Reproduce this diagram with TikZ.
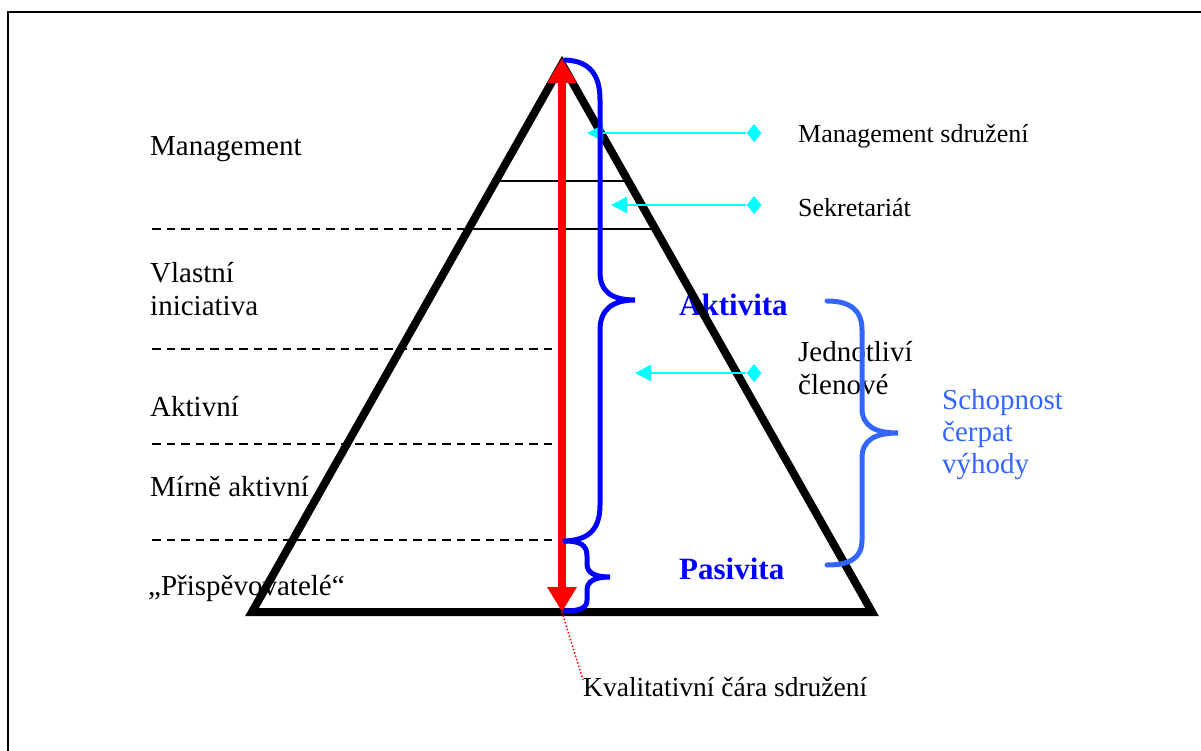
\documentclass[tikz,border=0pt]{standalone}
\usepackage{fontspec}
\setmainfont{Liberation Serif}
\usetikzlibrary{arrows.meta,shapes.geometric}
\definecolor{benefitblue}{HTML}{3366FF}
\definecolor{pointercyan}{HTML}{00FFFF}
\definecolor{qualityred}{HTML}{FF0000}
\definecolor{braceblue}{HTML}{0000FF}

\begin{document}
\begin{tikzpicture}[x=1pt,y=-1pt,
  lbl/.style={anchor=base west, inner sep=0pt, align=left,
              font=\fontsize{29}{33}\selectfont},
  sidelbl/.style={anchor=base west, inner sep=0pt, align=left,
              font=\fontsize{26}{30}\selectfont},
  poleLbl/.style={anchor=base west, inner sep=0pt, text=braceblue,
              font=\fontsize{31}{36}\selectfont\bfseries},
  benefitLbl/.style={anchor=base west, inner sep=0pt, align=left, text=benefitblue,
              font=\fontsize{29}{32}\selectfont},
  rim/.style={line width=8pt, line join=miter},
  band/.style={line width=1.4pt},
  guide/.style={line width=1.4pt, dash pattern=on 8.5pt off 6pt},
  brace/.style={line width=5pt, line cap=round, braceblue},
  widebrace/.style={line width=5pt, line cap=round, benefitblue},
  pointer/.style={pointercyan, line width=2.5pt, -{Triangle[width=16pt,length=16pt]}},
  pin/.style={diamond, fill=pointercyan, minimum width=15pt, minimum height=18pt, inner sep=0pt},
  quality/.style={qualityred, line width=8pt,
              {Triangle[width=28pt,length=25pt]}-{Triangle[width=28pt,length=25pt]}},
  frameline/.style={line width=2pt}
]
\useasboundingbox (0,0) rectangle (1201,751);

% outer frame (only top and left edges fall inside the page)
\draw[frameline] (8,751) -- (8,12) -- (1201,12);

% pyramid corners
\coordinate (apex) at (562,64);
\coordinate (bl) at (252,612);
\coordinate (br) at (872,612);
\coordinate (qtop) at (562,58);
\coordinate (qbot) at (562,612);

% labels of the levels (base anchor sits on the last line)
\node[lbl] (mgmt) at (150,156) {Management};
\node[lbl] (own) at (150,315) {Vlastní\\iniciativa};
\node[lbl] (act) at (150,416) {Aktivní};
\node[lbl] (mild) at (150,496) {Mírně aktivní};
\node[lbl] (contrib) at (148,595) {„Přispěvovatelé“};

% labels on the right
\node[sidelbl] (mgmtassoc) at (798,143) {Management sdružení};
\node[sidelbl] (secr) at (798,217) {Sekretariát};
\node[lbl] (members) at (798,394) {Jednotliví\\členové};
\node[poleLbl] (activity) at (679,315) {Aktivita};
\node[poleLbl] (passivity) at (679,579) {Pasivita};
\node[benefitLbl] (benefit) at (942,473) {Schopnost\\čerpat\\výhody};
\node[lbl, font=\fontsize{27.5}{32}\selectfont] (qline) at (583,696) {Kvalitativní čára sdružení};

% dashed level separators
\coordinate (g1a) at (152,229); \coordinate (g1b) at (468.7,229);
\coordinate (g2a) at (152,349); \coordinate (g2b) at (562,349);
\coordinate (g3a) at (152,444); \coordinate (g3b) at (562,444);
\coordinate (g4a) at (152,540); \coordinate (g4b) at (562,540);
\draw[guide] (g1a) -- (g1b);
\draw[guide] (g2a) -- (g2b);
\draw[guide] (g3a) -- (g3b);
\draw[guide] (g4a) -- (g4b);

% solid bands inside the top of the pyramid
\coordinate (b1a) at (495.8,181); \coordinate (b1b) at (628.2,181);
\coordinate (b2a) at (468.7,229); \coordinate (b2b) at (655.3,229);
\draw[band] (b1a) -- (b1b);
\draw[band] (b2a) -- (b2b);

% pyramid outline
\draw[rim] (apex) -- (bl) -- (br) -- cycle;

% pointers from the right-hand labels
\node[pin] (p1) at (754,133) {};
\node[pin] (p2) at (754,205) {};
\node[pin] (p3) at (754,373) {};
\coordinate (t1) at (587,133);
\coordinate (t2) at (611,205);
\coordinate (t3) at (635,373);
\draw[pointer] (p1) -- (t1);
\draw[pointer] (p2) -- (t2);
\draw[pointer] (p3) -- (t3);

% quality axis
\draw[quality] (qtop) -- (qbot);
\coordinate (qend) at (583,680);
\draw[qualityred, line width=1.5pt, dotted] (qbot) -- (qend);

% activity brace
\draw[brace] (565,60) .. controls (590,61) and (600,75) .. (600,100)
  -- (600,272) .. controls (600,292) and (612,300) .. (635,300)
  .. controls (612,300) and (600,310) .. (600,330)
  -- (600,505) .. controls (600,528) and (590,540) .. (565,541);

% passivity brace
\draw[brace] (565,541) .. controls (580,541) and (587,545) .. (587,556)
  -- (587,564) .. controls (587,573) and (595,577) .. (610,577)
  .. controls (595,577) and (587,581) .. (587,590)
  -- (587,600) .. controls (587,608) and (580,611) .. (565,611);

% benefit brace
\draw[widebrace] (827,301) .. controls (850,301) and (862,310) .. (862,330)
  -- (862,408) .. controls (862,426) and (875,433) .. (898,433)
  .. controls (875,433) and (862,440) .. (862,458)
  -- (862,540) .. controls (862,558) and (850,565) .. (827,565);
\end{tikzpicture}
\end{document}
